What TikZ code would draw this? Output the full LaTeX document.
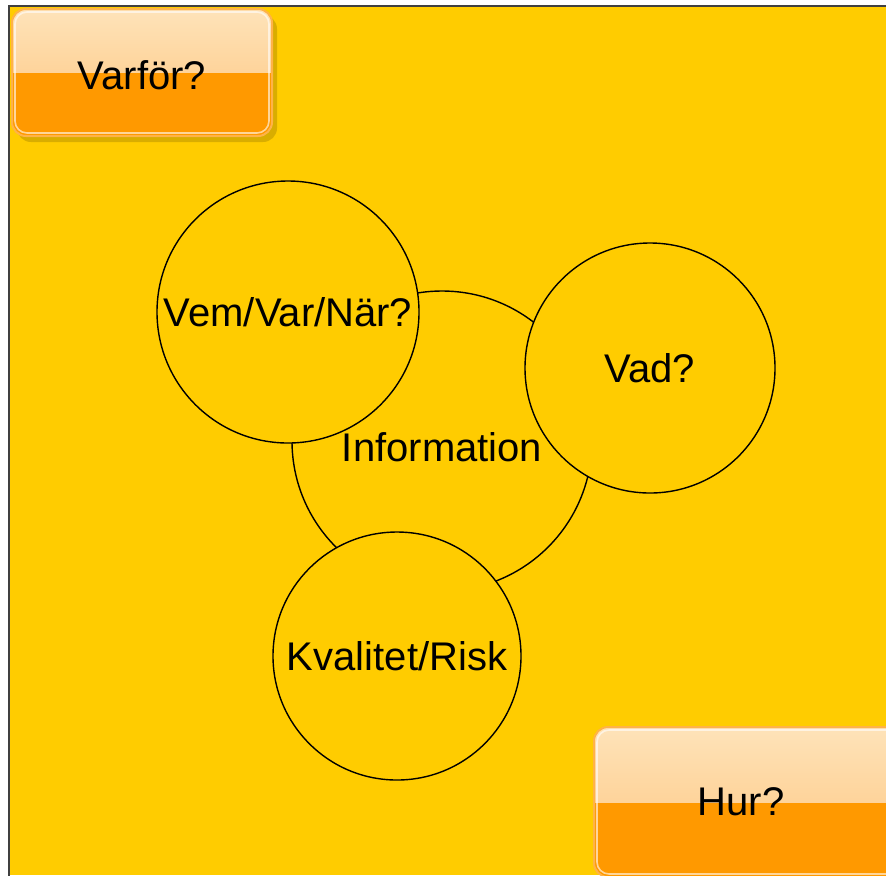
\documentclass[tikz,border=0pt]{standalone}
\usepackage{fontspec}
\setmainfont{Liberation Sans}
\usetikzlibrary{positioning, shadows}
\usepackage{xcolor}
\definecolor{bgyellow}{HTML}{FFCC00}
\definecolor{btnorange}{HTML}{FF9900}
\definecolor{btnlight}{HTML}{FEE3B9}
\definecolor{btnmid}{HTML}{FDC47C}
\definecolor{btnedge}{HTML}{FFB347}

\begin{document}
\begin{tikzpicture}[x=0.5pt, y=-0.5pt,
    every node/.style={font=\fontsize{20}{24}\selectfont},
    ring/.style={draw=black, fill=bgyellow, circle, inner sep=0pt, line width=0.7pt},
    button/.style={rounded corners=7pt, draw=btnedge, line width=1pt, fill=btnorange,
        drop shadow={shadow xshift=2.5pt, shadow yshift=-3pt, fill=black, opacity=0.15},
        path picture={
            \shade[sharp corners, top color=btnlight, bottom color=btnmid]
                (path picture bounding box.north west) rectangle (path picture bounding box.east);
            \draw[white, opacity=0.6, line width=0.8pt, rounded corners=6pt]
                ([shift={(1.5pt,-1.5pt)}]path picture bounding box.north west) rectangle
                ([shift={(-1.5pt,1.5pt)}]path picture bounding box.south east);
        }},
  ]
    \useasboundingbox (0,0) rectangle (886,875);
    \clip (0,0) rectangle (886,875);
    \fill[white] (0,0) rectangle (886,875);
    \fill[bgyellow] (9,6) rectangle (886,875);
    \draw[line width=1.3pt, black!75] (9,880) -- (9,6) -- (890,6);

    % the three questions around the middle
    \node[ring, minimum size=150pt] (info) at (442,441) {};
    \node (infotext) at ([yshift=-3pt]info.center) {Information};
    \node[ring, minimum size=131pt] (vem) at (288,312) {Vem/Var/När?};
    \node[ring, minimum size=125pt] (vad) at (650,368) {Vad?};
    \node[ring, minimum size=124pt] (kval) at (397,656) {Kvalitet/Risk};

    % buttons in the corners
    \node[button, minimum width=130pt, minimum height=63.5pt] (varfor) at (142,72.5) {};
    \node at ([yshift=-1.5pt]varfor.center) {Varför?};
    \node[button, minimum width=156pt, minimum height=75pt] (hur) at (750,802) {};
    \node at ([xshift=-4.5pt]hur.center) {Hur?};
\end{tikzpicture}
\end{document}
